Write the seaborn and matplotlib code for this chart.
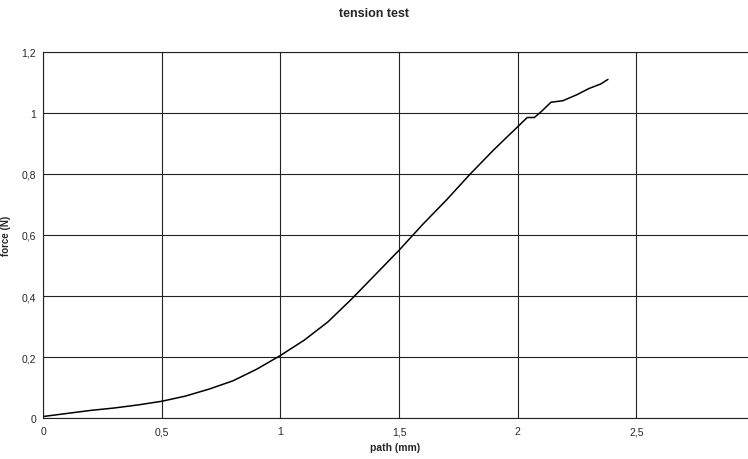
import pandas as pd
import seaborn as sns
import matplotlib.pyplot as plt
from matplotlib.ticker import FuncFormatter

# values
path_mm = [0, 0.05, 0.1, 0.2, 0.3, 0.4, 0.5, 0.6, 0.7, 0.8, 0.9, 1.0, 1.1, 1.2, 1.3,
           1.4, 1.5, 1.6, 1.7, 1.8, 1.9, 2.0, 2.04, 2.07, 2.1, 2.14, 2.19, 2.25, 2.3,
           2.35, 2.38]
force_n = [0.005, 0.01, 0.015, 0.025, 0.033, 0.043, 0.055, 0.072, 0.095, 0.122, 0.16,
           0.205, 0.255, 0.315, 0.39, 0.47, 0.55, 0.635, 0.715, 0.80, 0.88, 0.955,
           0.985, 0.985, 1.005, 1.035, 1.04, 1.06, 1.08, 1.095, 1.11]
x_ticks = [0, 0.5, 1, 1.5, 2, 2.5]
y_ticks = [0, 0.2, 0.4, 0.6, 0.8, 1.0, 1.2]

data = pd.DataFrame({'path': path_mm, 'force': force_n})

sns.set_style('white')
plt.rcParams['font.family'] = ['Liberation Sans', 'DejaVu Sans']

fig = plt.figure(figsize=(7.48, 4.6), dpi=100)
ax = fig.add_axes([0.0575, 0.089, 0.9425, 0.796])

sns.lineplot(data=data, x='path', y='force', sort=False, color='black', linewidth=1.1, ax=ax)

ax.set_xlim(0, 2.97)
ax.set_ylim(0, 1.2)
ax.set_xticks(x_ticks)
ax.set_yticks(y_ticks)
comma = FuncFormatter(lambda v, pos: f'{v:g}'.replace('.', ','))
ax.xaxis.set_major_formatter(comma)
ax.yaxis.set_major_formatter(comma)
ax.grid(True, color='#222222', linewidth=0.8)
ax.tick_params(axis='y', length=3, width=0.8, color='#222222', labelsize=7.5, pad=2)
ax.tick_params(axis='x', length=0, labelsize=7.5, pad=6)

for side in ['right']:
    ax.spines[side].set_visible(False)
for side in ['left', 'bottom', 'top']:
    ax.spines[side].set_color('#222222')
    ax.spines[side].set_linewidth(0.8)

ax.set_xlabel('path (mm)', fontsize=7.5, fontweight='bold', labelpad=4)
ax.set_ylabel('force (N)', fontsize=7, fontweight='bold')
ax.yaxis.set_label_coords(-0.046, 0.5)
fig.text(0.5, 0.97, 'tension test', ha='center', va='center', fontsize=9, fontweight='bold')

fig.savefig('out.png', dpi=100)
